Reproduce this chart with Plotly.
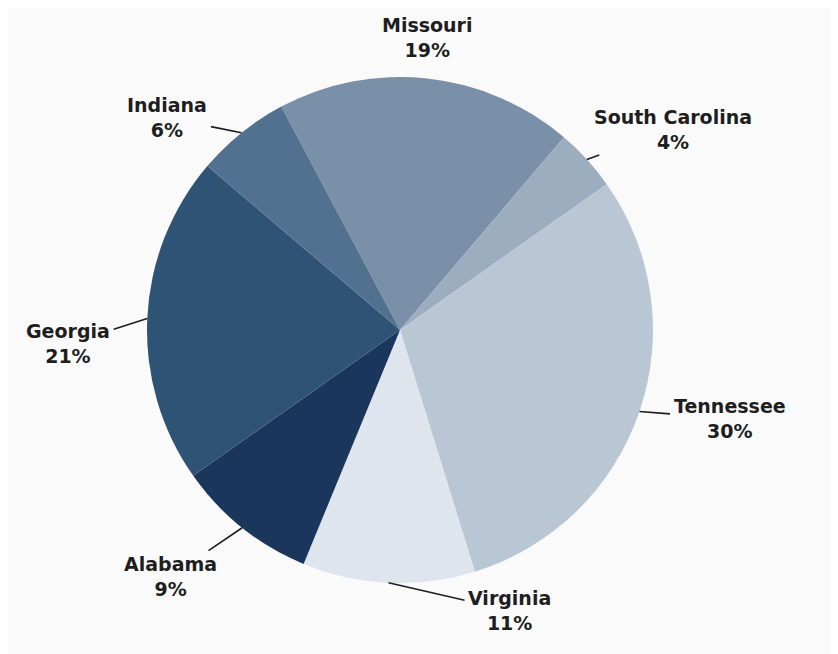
import math
import plotly.graph_objects as go

states = ["Missouri", "South Carolina", "Tennessee", "Virginia", "Alabama", "Georgia", "Indiana"]
shares = [19, 4, 30, 11, 9, 21, 6]
colors = ["#7a90a8", "#9cadbf", "#b9c7d4", "#dee5ec", "#1b365d", "#2f5374", "#52708f"]

ROTATION = -28
# label offsets in pixels (text centre relative to rim point), styling only
offsets = {
    "Missouri": (0, -41),
    "South Carolina": (86, -30),
    "Tennessee": (90, 7),
    "Virginia": (121, 28),
    "Alabama": (-72, 49),
    "Georgia": (-79, 25),
    "Indiana": (-74, -15),
}

fig = go.Figure(go.Pie(
    labels=states,
    values=shares,
    sort=False,
    direction="clockwise",
    rotation=ROTATION,
    marker=dict(colors=colors, line=dict(width=0)),
    textinfo="none",
    hoverinfo="label+percent",
    showlegend=False,
    domain=dict(x=[0, 1], y=[0, 1]),
))

rfrac = 0.5
total = sum(shares)
cum = 0.0
annotations = []
for s, v in zip(states, shares):
    mid = ROTATION + 360.0 * (cum + v / 2) / total
    cum += v
    a = math.radians(mid)
    px = 0.5 + rfrac * math.sin(a)
    py = 0.5 + rfrac * math.cos(a)
    ax, ay = offsets[s]
    text = f"<b>{s}</b><br><b>{v}%</b>"
    if s == "Missouri":
        annotations.append(dict(x=px, y=py, xref="paper", yref="paper", text=text,
                                showarrow=False, xshift=ax, yshift=-ay,
                                align="center", xanchor="center", yanchor="middle"))
    else:
        annotations.append(dict(x=px, y=py, xref="paper", yref="paper", text=text,
                                showarrow=True, ax=ax, ay=ay, axref="pixel", ayref="pixel",
                                arrowhead=0, arrowwidth=1.6, arrowcolor="#1e1e1e",
                                standoff=0, startstandoff=2,
                                align="center", xanchor="center", yanchor="middle"))

fig.update_layout(
    width=838, height=654,
    margin=dict(l=139, r=193, t=69, b=79),
    paper_bgcolor="#fafafa",
    plot_bgcolor="#fafafa",
    font=dict(family="DejaVu Sans, Noto Sans, sans-serif", size=19, color="#1e1e1e"),
    annotations=annotations,
)

fig.write_html("out.html")
